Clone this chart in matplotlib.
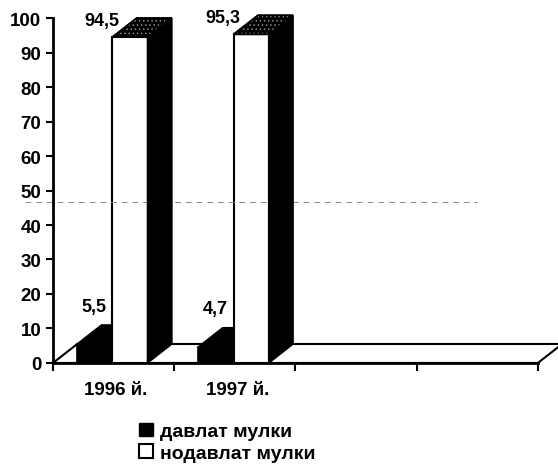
import matplotlib.pyplot as plt
from matplotlib.patches import Polygon, Patch

plt.rcParams['font.family'] = ['Liberation Sans', 'DejaVu Sans']
plt.rcParams['hatch.linewidth'] = 0.5

years = ["1996 й.", "1997 й."]
state = [5.5, 4.7]          # давлат мулки
nonstate = [94.5, 95.3]     # нодавлат мулки
state_lbl = ["5,5", "4,7"]
nonstate_lbl = ["94,5", "95,3"]
n_slots = 4

# 3D look: depth offset in data units
dx, dy = 0.2, 5.5
x0 = 0.2
bw = 0.29

fig = plt.figure(figsize=(5.58, 4.77), dpi=100)
ax = fig.add_axes([0.095, 0.237, 0.869, 0.723])
ax.set_xlim(0, n_slots)
ax.set_ylim(0, 100)


def poly(pts, z, fc="black", ec="black", lw=1.2, **kw):
    p = Polygon(pts, closed=True, facecolor=fc, edgecolor=ec, lw=lw,
                zorder=z, clip_on=False, joinstyle="miter", **kw)
    ax.add_patch(p)
    return p


def top_face(xl, xr, h, z):
    pts = [(xl, h), (xr, h), (xr + dx, h + dy), (xl + dx, h + dy)]
    poly(pts, z)
    poly(pts, z + 0.01, fc="none", ec="#9a9a9a", lw=0, hatch="....")
    poly(pts, z + 0.02, fc="none", lw=1.2)


# floor
poly([(0, 0), (n_slots, 0), (n_slots + dx, dy), (dx, dy)], 1, fc="white", lw=1.5)

for i in range(len(years)):
    xb = i + x0
    xw = xb + bw
    # state (black) bar
    poly([(xb, 0), (xw, 0), (xw, state[i]), (xb, state[i])], 2)
    poly([(xb, state[i]), (xw, state[i]), (xw + dx, state[i] + dy),
          (xb + dx, state[i] + dy)], 2)
    # non-state (white) bar
    v = nonstate[i]
    poly([(xw, 0), (xw + bw, 0), (xw + bw, v), (xw, v)], 3, fc="white", lw=1.5)
    poly([(xw + bw, 0), (xw + bw + dx, dy), (xw + bw + dx, v + dy), (xw + bw, v)], 4)
    top_face(xw, xw + bw, v, 4)

    ax.text(i + 0.335, state[i] + 8.5, state_lbl[i], ha="center", va="bottom",
            fontsize=13, fontweight="bold", zorder=6)
    ax.text(i + 0.4, v + 2.4, nonstate_lbl[i], ha="center", va="bottom",
            fontsize=13, fontweight="bold", zorder=6)

# faint dashed scan line
ax.plot([-0.23, 3.5], [46.8, 46.8], color="#888888", lw=0.7, ls=(0, (6, 5)),
        zorder=3.5, clip_on=False)

for s in ["top", "right"]:
    ax.spines[s].set_visible(False)
for s in ["left", "bottom"]:
    ax.spines[s].set_linewidth(2)
    ax.spines[s].set_zorder(5)

ax.set_yticks(range(0, 101, 10))
ax.tick_params(axis="y", labelsize=13.5, width=1.5, length=5, pad=3.5)
for t in ax.get_yticklabels():
    t.set_fontweight("bold")

ax.set_xticks(range(n_slots + 1))
ax.set_xticklabels([])
ax.tick_params(axis="x", width=1.5, length=6)
for i, y in enumerate(years):
    ax.text(i + 0.52, -5.3, y, ha="center", va="top", fontsize=13.5,
            fontweight="bold")

handles = [Patch(facecolor="black", edgecolor="black"),
           Patch(facecolor="white", edgecolor="black", lw=1.5)]
fig.legend(handles, ["давлат мулки", "нодавлат мулки"], loc="upper left",
           bbox_to_anchor=(0.249, 0.112), frameon=False,
           prop={"weight": "bold", "size": 14},
           handlelength=0.72, handleheight=0.72, handletextpad=0.35,
           labelspacing=0.2, borderpad=0, borderaxespad=0)

fig.savefig("out.png", dpi=100)
